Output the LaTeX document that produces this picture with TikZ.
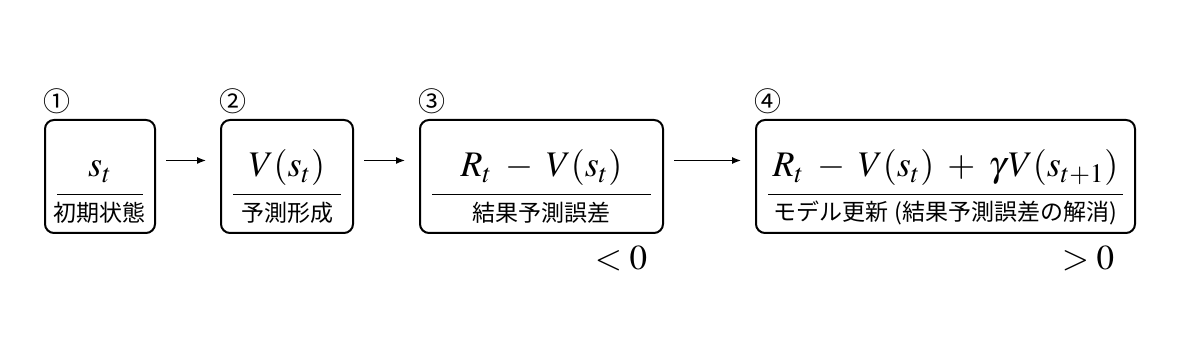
\documentclass[tikz,border=0pt]{standalone}
\usepackage{mathptmx}
\usepackage{fontspec}
\setmainfont{Liberation Serif}
\newfontfamily\jpfont{Noto Sans CJK JP}
\usetikzlibrary{arrows.meta, calc}
\tikzset{
  stepbox/.style={draw, line width=1pt, rounded corners=4.5pt, inner sep=0pt, minimum height=56.5pt},
  mathlbl/.style={font=\fontsize{18}{20}\selectfont, anchor=base, inner sep=0pt},
  jplbl/.style={font=\jpfont\fontsize{11.5}{13}\selectfont, inner sep=0pt},
  numlbl/.style={font=\jpfont\fontsize{13.5}{15}\selectfont, anchor=south west, inner sep=0pt},
  flow/.style={-{Latex[length=4.5pt, width=3.5pt]}, line width=0.6pt, shorten <=5pt, shorten >=7pt},
}
\begin{document}
\begin{tikzpicture}[x=0.5pt, y=-0.5pt]
\useasboundingbox (0,0) rectangle (1200,362);
% ---- boxes: name / centre x / width (pt) / number / formula / caption
\foreach \n/\cx/\w/\num/\f/\c in {
  b1/100/55/①/{s_t}/{初期状態},
  b2/287/66/②/{V(s_t)}/{予測形成},
  b3/541.5/121.5/③/{R_t \;-\; V(s_t)}/{結果予測誤差},
  b4/945.5/189.5/④/{R_t \;-\; V(s_t) \;+\; \gamma\mkern1mu V(s_{t+1})}/{モデル更新\hspace{3pt}(結果予測誤差の解消)}}{
  \node[stepbox, minimum width=\w*1pt] (\n) at (\cx,176.5) {};
  \node[numlbl] (\n-num) at ($(\n.north west)+(-1,-5)$) {\num};
  \node[mathlbl] (\n-f) at (\cx,177) {$\f$};
  \node[jplbl] (\n-c) at (\cx,213) {\c};
  % divider between formula and caption
  \draw[line width=0.5pt] ($(\n.south west)+(13,-39)$) -- ($(\n.south east)+(-13,-39)$);
}
% ---- arrows
\foreach \a/\b in {b1/b2, b2/b3, b3/b4}
  \draw[flow] ([yshift=8pt]\a.east) -- ([yshift=8pt]\b.west);
% ---- signs under boxes 3 and 4
\node[mathlbl, anchor=center, font=\fontsize{17.5}{19}\selectfont] (b3-sign) at (621,258) {$<0$};
\node[mathlbl, anchor=center, font=\fontsize{17.5}{19}\selectfont] (b4-sign) at (1088,258) {$>0$};
\end{tikzpicture}
\end{document}
